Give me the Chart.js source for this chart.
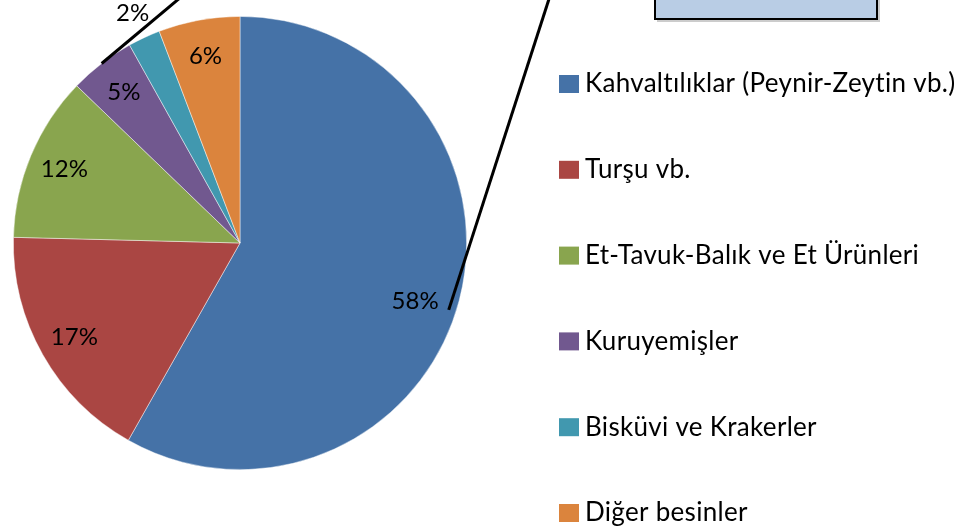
<!DOCTYPE html>
<html>
<head>
<meta charset="utf-8">
<script src="https://cdn.jsdelivr.net/npm/chart.js@4"></script>
<style>
  html, body { margin: 0; padding: 0; background: #ffffff; }
  canvas { display: block; }
</style>
</head>
<body>
<canvas id="c" width="966" height="528"></canvas>
<script>
const categories = [
  'Kahvaltılıklar (Peynir-Zeytin vb.)',
  'Turşu vb.',
  'Et-Tavuk-Balık ve Et Ürünleri',
  'Kuruyemişler',
  'Bisküvi ve Krakerler',
  'Diğer besinler'
];
const shares = [58.2, 17.2, 11.8, 4.7, 2.3, 5.8];
const percentLabels = ['58%', '17%', '12%', '5%', '2%', '6%'];
const sliceColors = ['#4572A7', '#AA4643', '#89A54E', '#71588F', '#4198AF', '#DB843D'];

const FONT = 'Lato, "Liberation Sans", sans-serif';

const decorPlugin = {
  id: 'decor',
  afterDatasetsDraw(chart) {
    const ctx = chart.ctx;
    const arcs = chart.getDatasetMeta(0).data;
    const cx = arcs[0].x, cy = arcs[0].y, r = arcs[0].outerRadius;

    // percentage labels
    ctx.save();
    ctx.font = '24px ' + FONT;
    ctx.fillStyle = '#000';
    ctx.textAlign = 'center';
    ctx.textBaseline = 'middle';
    arcs.forEach((a, i) => {
      let mid = (a.startAngle + a.endAngle) / 2;
      let f = 0.84;
      if (shares[i] < 3) f = 1.12;
      if (i === 0) { f = 0.815; mid += 0.066; }
      ctx.fillText(percentLabels[i], cx + Math.cos(mid) * r * f, cy + Math.sin(mid) * r * f);
    });
    ctx.restore();

    // connector lines
    ctx.save();
    ctx.strokeStyle = '#000';
    ctx.lineWidth = 3;
    const p = arcs[3];
    const pm = (p.startAngle + p.endAngle) / 2;
    const sx = cx + Math.cos(pm) * r, sy = cy + Math.sin(pm) * r;
    ctx.beginPath();
    ctx.moveTo(sx, sy);
    ctx.lineTo(sx + 74 * ((sy + 10) / 62), -10);
    ctx.stroke();
    ctx.beginPath();
    ctx.moveTo(cx + r * 0.921, cy + r * 0.295);
    ctx.lineTo(cx + r * 0.921 + 100 * ((cy + r * 0.295 + 10) / 310), -10);
    ctx.stroke();
    ctx.restore();

    // box at top right
    ctx.save();
    ctx.fillStyle = 'rgba(0,0,0,0.2)';
    ctx.fillRect(657, -5, 223, 27);
    ctx.fillStyle = '#B9CDE5';
    ctx.fillRect(655, -5, 222, 24);
    ctx.strokeStyle = '#000';
    ctx.lineWidth = 2;
    ctx.strokeRect(655, -5, 222, 24);
    ctx.restore();

    // legend
    ctx.save();
    ctx.font = '26px ' + FONT;
    ctx.letterSpacing = '0.3px';
    ctx.textAlign = 'left';
    ctx.textBaseline = 'middle';
    categories.forEach((c, i) => {
      const y = 84 + i * 85.8;
      ctx.fillStyle = sliceColors[i];
      ctx.fillRect(559, y - 9, 20, 18);
      ctx.fillStyle = '#000';
      ctx.fillText(c, 585, y);
    });
    ctx.restore();
  }
};

new Chart(document.getElementById('c'), {
  type: 'pie',
  data: {
    labels: categories,
    datasets: [{
      data: shares,
      backgroundColor: sliceColors,
      borderColor: 'rgba(255,255,255,0.6)',
      borderWidth: 0.75
    }]
  },
  options: {
    responsive: false,
    animation: false,
    layout: { padding: { left: 13, top: 16, right: 499, bottom: 58 } },
    plugins: {
      legend: { display: false },
      tooltip: { enabled: false }
    }
  },
  plugins: [decorPlugin]
});
</script>
</body>
</html>
